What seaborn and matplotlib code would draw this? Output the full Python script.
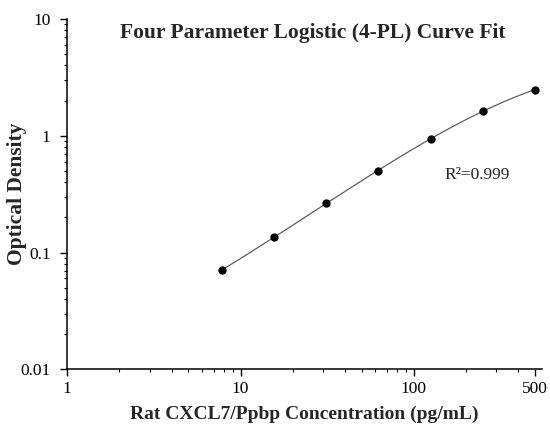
import numpy as np
import pandas as pd
import matplotlib
matplotlib.use("Agg")
import matplotlib.pyplot as plt
from matplotlib.ticker import LogLocator, FixedLocator, FixedFormatter, NullFormatter
import seaborn as sns

# standard concentrations (pg/mL) and measured OD
conc = [7.8125, 15.625, 31.25, 62.5, 125, 250, 500]
od = [0.071, 0.135, 0.265, 0.503, 0.935, 1.644, 2.474]
r2_label = "R\u00b2=0.999"

x_ticks = [1, 10, 100, 500]
x_ticklabels = ["1", "10", "100", "500"]
y_ticks = [0.01, 0.1, 1, 10]
y_ticklabels = ["0.01", "0.1", "1", "10"]


def fit_4pl(x, y):
    # crude 4PL fit: grid over b, c; a and d by weighted least squares
    x = np.asarray(x, float)
    y = np.asarray(y, float)
    best = None
    for b in np.linspace(0.6, 1.8, 121):
        for c in np.logspace(1.5, 4, 200):
            u = (x / c) ** b
            A = np.column_stack([1 / (1 + u), u / (1 + u)]) / y[:, None]
            coef, *_ = np.linalg.lstsq(A, np.ones_like(y), rcond=None)
            err = np.sum((A @ coef - 1) ** 2)
            if best is None or err < best[0]:
                best = (err, coef[0], b, c, coef[1])
    return best[1:]


def main():
    sns.set_style("ticks")
    plt.rcParams['font.family'] = ['Liberation Serif', 'DejaVu Serif']

    a, b, c, d = fit_4pl(conc, od)
    xs = np.logspace(np.log10(conc[0]), np.log10(conc[-1]), 200)
    curve = pd.DataFrame({'x': xs, 'y': d + (a - d) / (1 + (xs / c) ** b)})
    pts = pd.DataFrame({'x': conc, 'y': od})

    fig = plt.figure(figsize=(5.5, 4.3), dpi=100)
    ax = fig.add_axes([0.1224, 0.1412, 0.8631, 0.8146])

    sns.lineplot(data=curve, x='x', y='y', color='#5e5e5e', linewidth=0.9, ax=ax)
    sns.scatterplot(data=pts, x='x', y='y', color='black', s=36, edgecolor='black',
                    linewidth=0, zorder=3, ax=ax)

    ax.set_xscale('log')
    ax.set_yscale('log')
    ax.set_xlim(1, 550)
    ax.set_ylim(0.01, 10)

    ax.xaxis.set_major_locator(FixedLocator(x_ticks))
    ax.xaxis.set_major_formatter(FixedFormatter(x_ticklabels))
    ax.xaxis.set_minor_locator(LogLocator(base=10, subs=np.arange(2, 10)))
    ax.xaxis.set_minor_formatter(NullFormatter())
    ax.yaxis.set_major_locator(FixedLocator(y_ticks))
    ax.yaxis.set_major_formatter(FixedFormatter(y_ticklabels))
    ax.yaxis.set_minor_locator(LogLocator(base=10, subs=np.arange(2, 10)))
    ax.yaxis.set_minor_formatter(NullFormatter())

    ax.tick_params(which='major', length=5, width=1, labelsize=12.5, color='black', labelcolor='black')
    ax.tick_params(which='minor', length=2.5, width=0.8, color='black')
    ax.tick_params(axis='y', which='major', pad=7)

    sns.despine(ax=ax)
    for s in ['left', 'bottom']:
        ax.spines[s].set_linewidth(1.1)
        ax.spines[s].set_color('black')

    ax.set_xlabel('Rat CXCL7/Ppbp Concentration (pg/mL)', fontsize=14, fontweight='bold', labelpad=6)
    ax.set_ylabel('')
    fig.text(17 / 550, 0.549, 'Optical Density', rotation=90, ha='center', va='center',
             fontsize=15.5, fontweight='bold')

    fig.text(0.569, 0.923, 'Four Parameter Logistic (4-PL) Curve Fit', ha='center', va='center',
             fontsize=15.5, fontweight='bold')
    ax.text(150, 0.46, r2_label, ha='left', va='center', fontsize=12.5)

    fig.savefig('out.png', dpi=100)


if __name__ == '__main__':
    main()
